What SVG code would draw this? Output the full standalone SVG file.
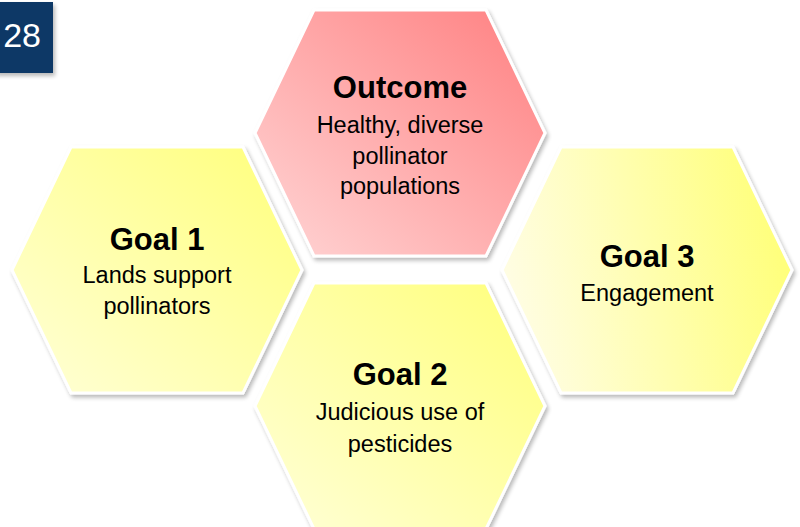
<svg xmlns="http://www.w3.org/2000/svg" width="800" height="527" viewBox="0 0 800 527">
  <defs>
    <!-- reusable hexagon shape, centred on the origin -->
    <polygon id="hex" points="-86,-123 86,-123 145,0 86,123 -86,123 -145,0"/>
    <linearGradient id="gradRed" x1="1" y1="0" x2="0" y2="1">
      <stop offset="0" stop-color="#ff7f80"/>
      <stop offset="1" stop-color="#ffd6d6"/>
    </linearGradient>
    <linearGradient id="gradYellowDiag" x1="1" y1="0" x2="0" y2="1">
      <stop offset="0" stop-color="#ffff7a"/>
      <stop offset="1" stop-color="#ffffd8"/>
    </linearGradient>
    <linearGradient id="gradYellowSide" x1="0" y1="0.6" x2="1" y2="0.4">
      <stop offset="0" stop-color="#fffde6"/>
      <stop offset="1" stop-color="#ffff78"/>
    </linearGradient>
    <filter id="shadow" x="-10%" y="-10%" width="125%" height="125%">
      <feGaussianBlur in="SourceAlpha" stdDeviation="2"/>
      <feOffset dx="2" dy="3" result="blur"/>
      <feComponentTransfer><feFuncA type="linear" slope="0.28"/></feComponentTransfer>
      <feMerge><feMergeNode/><feMergeNode in="SourceGraphic"/></feMerge>
    </filter>
    <style>
      .cell { stroke: #ffffff; stroke-width: 3; filter: url(#shadow); }
      .title { font-family: "Liberation Sans", Arial, sans-serif; font-weight: bold; font-size: 31px; fill: #000; text-anchor: middle; }
      .sub { font-family: "Liberation Sans", Arial, sans-serif; font-size: 23.5px; fill: #000; text-anchor: middle; }
      .badge { font-family: "Liberation Sans", Arial, sans-serif; font-size: 34px; fill: #ffffff; text-anchor: end; }
    </style>
  </defs>

  <rect width="800" height="527" fill="#ffffff"/>

  <!-- page number badge -->
  <g id="badge">
    <rect x="-6" y="2" width="59" height="71" fill="#0b3766" filter="url(#shadow)"/>
    <text class="badge" x="41" y="47">28</text>
  </g>

  <g id="outcome" transform="translate(400,133)">
    <use href="#hex" class="cell" fill="url(#gradRed)"/>
    <text class="title" x="0" y="-35">Outcome</text>
    <text class="sub" x="0" y="0">Healthy, diverse</text>
    <text class="sub" x="0" y="31">pollinator</text>
    <text class="sub" x="0" y="61">populations</text>
  </g>

  <g id="goal1" transform="translate(157,270)">
    <use href="#hex" class="cell" fill="url(#gradYellowDiag)"/>
    <text class="title" x="0" y="-20">Goal 1</text>
    <text class="sub" x="0" y="13">Lands support</text>
    <text class="sub" x="0" y="44">pollinators</text>
  </g>

  <g id="goal3" transform="translate(647,270)">
    <use href="#hex" class="cell" fill="url(#gradYellowSide)"/>
    <text class="title" x="0" y="-3">Goal 3</text>
    <text class="sub" x="0" y="31">Engagement</text>
  </g>

  <g id="goal2" transform="translate(400,406)">
    <use href="#hex" class="cell" fill="url(#gradYellowDiag)"/>
    <text class="title" x="0" y="-21">Goal 2</text>
    <text class="sub" x="0" y="14">Judicious use of</text>
    <text class="sub" x="0" y="46">pesticides</text>
  </g>
</svg>
